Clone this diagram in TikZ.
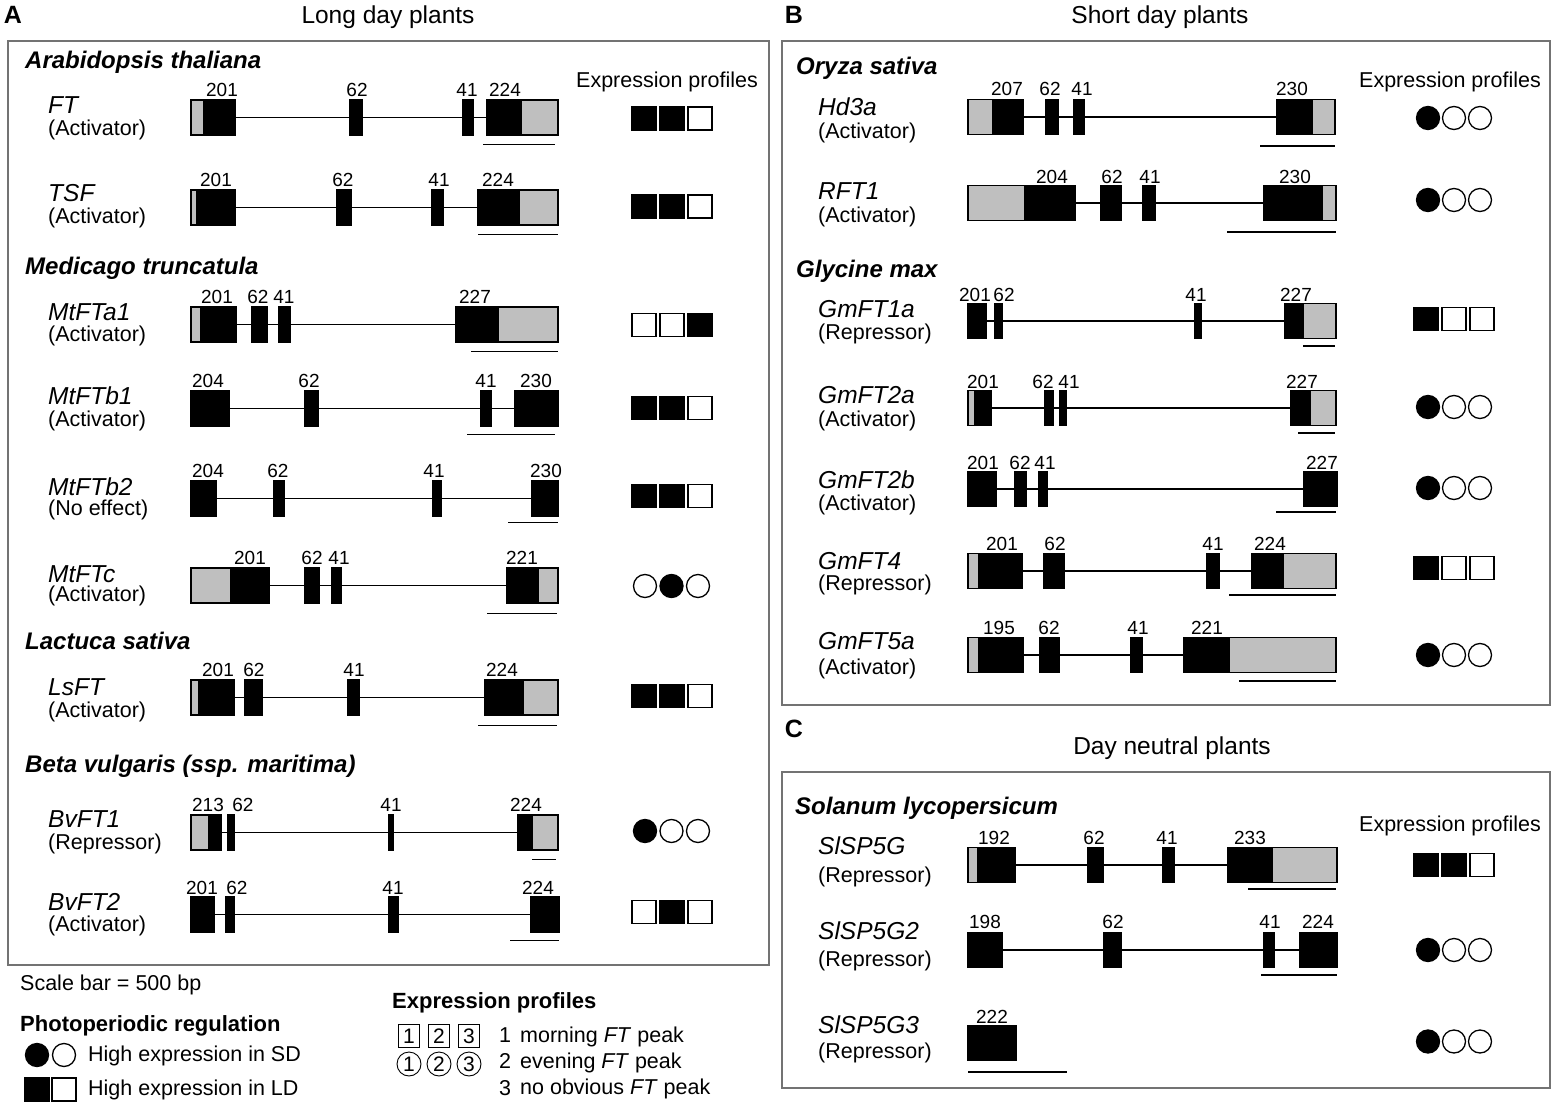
\documentclass[tikz,border=0pt]{standalone}
\usepackage{fontspec}
\setmainfont{Liberation Sans}
\usepackage{tikz}

\begin{document}
\begin{tikzpicture}[x=1pt,y=-1pt]
   \useasboundingbox (0,0) rectangle (1559,1110);
   \tikzstyle{panelbox}=[draw=black!55, line width=2.6pt]
   \tikzstyle{utr}=[fill=black!25, draw=black, line width=1.1pt]
   \tikzstyle{cds}=[fill=black, draw=black, line width=1.1pt]
   \tikzstyle{intron}=[line width=1.2pt]
   \tikzstyle{scalebar}=[line width=1.4pt]
   \tikzstyle{prof}=[draw=black, line width=1.3pt]
   \tikzstyle{num}=[inner sep=0pt, anchor=mid, yshift=-3.5pt, font=\fontsize{19}{20}\selectfont]
   \tikzstyle{gene}=[anchor=mid west, inner sep=0pt, yshift=-4pt, font=\fontsize{24.5}{26}\selectfont\itshape]
   \tikzstyle{role}=[anchor=mid west, inner sep=0pt, yshift=-4pt, font=\fontsize{21.5}{24}\selectfont]
   \tikzstyle{species}=[anchor=mid west, inner sep=0pt, yshift=-4pt, font=\fontsize{24}{26}\selectfont\bfseries\itshape]
   \tikzstyle{plants}=[inner sep=0pt, anchor=mid, yshift=-4pt, font=\fontsize{24.5}{26}\selectfont]
   \tikzstyle{panelletter}=[inner sep=0pt, anchor=mid, yshift=-4pt, font=\fontsize{25}{26}\selectfont\bfseries]
   \tikzstyle{txt}=[anchor=mid west, inner sep=0pt, yshift=-4pt, font=\fontsize{21.5}{24}\selectfont]
   \tikzstyle{keyhead}=[anchor=mid west, inner sep=0pt, yshift=-4pt, font=\fontsize{22}{24}\selectfont\bfseries]
   \tikzstyle{keymark}=[draw, line width=0.9pt, inner sep=0pt, font=\fontsize{21}{22}\selectfont]

   % panel A
   \draw[panelbox] (8,41) rectangle (769,965);
   \node[panelletter] (A) at (13,17) {A};
   \node[plants] (longday) at (388,17) {Long day plants};
   \node[txt,anchor=mid] (profA) at (667,81) {Expression profiles};
   \node[species] (arab) at (25,62) {Arabidopsis thaliana};
   \node[species] (medic) at (25,268) {Medicago truncatula};
   \node[species] (lact) at (25,643) {Lactuca sativa};
   \node[species] (beta) at (25,766) {Beta vulgaris (ssp. maritima)};

   % FT
   \def\gy{117.5}
   \draw[intron] (191,\gy) -- (558,\gy);
   \foreach \a/\b in {191/204,521/558} \draw[utr] (\a,\gy-17.5) rectangle (\b,\gy+17.5);
   \foreach \a/\b in {204/235,350/362,463/473,487/521} \draw[cds] (\a,\gy-17.5) rectangle (\b,\gy+17.5);
   \foreach \x/\n in {222/201,357/62,467/41,505/224} \node[num] (ft-\n) at (\x,\gy-27) {\n};
   \draw[scalebar] (483,\gy+27) -- (555,\gy+27);
   \node[gene] (ft) at (48,107) {FT};
   \node[role] (ft-role) at (48,129) {(Activator)};

   % TSF
   \def\gy{207.5}
   \draw[intron] (191,\gy) -- (558,\gy);
   \foreach \a/\b in {191/197,519/558} \draw[utr] (\a,\gy-17.5) rectangle (\b,\gy+17.5);
   \foreach \a/\b in {197/235,337/351,432/443,478/519} \draw[cds] (\a,\gy-17.5) rectangle (\b,\gy+17.5);
   \foreach \x/\n in {216/201,343/62,439/41,498/224} \node[num] (tsf-\n) at (\x,\gy-27) {\n};
   \draw[scalebar] (478,\gy+27) -- (558,\gy+27);
   \node[gene] (tsf) at (48,195) {TSF};
   \node[role] (tsf-role) at (48,217) {(Activator)};

   % MtFTa1
   \def\gy{324.5}
   \draw[intron] (191,\gy) -- (558,\gy);
   \foreach \a/\b in {191/201,498/558} \draw[utr] (\a,\gy-17.5) rectangle (\b,\gy+17.5);
   \foreach \a/\b in {201/236,252/267,279/290,456/498} \draw[cds] (\a,\gy-17.5) rectangle (\b,\gy+17.5);
   \foreach \x/\n in {217/201,258/62,284/41,475/227} \node[num] (fta1-\n) at (\x,\gy-27) {\n};
   \draw[scalebar] (471,\gy+27) -- (558,\gy+27);
   \node[gene] (fta1) at (48,314) {MtFTa1};
   \node[role] (fta1-role) at (48,335) {(Activator)};

   % MtFTb1
   \def\gy{408.5}
   \draw[intron] (191,\gy) -- (558,\gy);
   \foreach \a/\b in {191/229,305/318,481/491,515/558} \draw[cds] (\a,\gy-17.5) rectangle (\b,\gy+17.5);
   \foreach \x/\n in {208/204,309/62,486/41,536/230} \node[num] (ftb1-\n) at (\x,\gy-27) {\n};
   \draw[scalebar] (467,\gy+26) -- (555,\gy+26);
   \node[gene] (ftb1) at (48,398) {MtFTb1};
   \node[role] (ftb1-role) at (48,420) {(Activator)};

   % MtFTb2
   \def\gy{498.5}
   \draw[intron] (191,\gy) -- (558,\gy);
   \foreach \a/\b in {191/216,274/284,433/441,532/558} \draw[cds] (\a,\gy-17.5) rectangle (\b,\gy+17.5);
   \foreach \x/\n in {208/204,278/62,434/41,546/230} \node[num] (ftb2-\n) at (\x,\gy-27) {\n};
   \draw[scalebar] (508,\gy+24) -- (558,\gy+24);
   \node[gene] (ftb2) at (48,489) {MtFTb2};
   \node[role] (ftb2-role) at (48,509) {(No effect)};

   % MtFTc
   \def\gy{585.5}
   \draw[intron] (191,\gy) -- (558,\gy);
   \foreach \a/\b in {191/231,538/558} \draw[utr] (\a,\gy-17.5) rectangle (\b,\gy+17.5);
   \foreach \a/\b in {231/269,305/319,332/341,507/538} \draw[cds] (\a,\gy-17.5) rectangle (\b,\gy+17.5);
   \foreach \x/\n in {250/201,312/62,339/41,522/221} \node[num] (ftc-\n) at (\x,\gy-27) {\n};
   \draw[scalebar] (487,\gy+28) -- (557,\gy+28);
   \node[gene] (ftc) at (48,576) {MtFTc};
   \node[role] (ftc-role) at (48,595) {(Activator)};

   % LsFT
   \def\gy{697.5}
   \draw[intron] (191,\gy) -- (558,\gy);
   \foreach \a/\b in {191/199,523/558} \draw[utr] (\a,\gy-17.5) rectangle (\b,\gy+17.5);
   \foreach \a/\b in {199/234,245/262,348/359,485/523} \draw[cds] (\a,\gy-17.5) rectangle (\b,\gy+17.5);
   \foreach \x/\n in {218/201,254/62,354/41,502/224} \node[num] (lsft-\n) at (\x,\gy-27) {\n};
   \draw[scalebar] (478,\gy+28) -- (557,\gy+28);
   \node[gene] (lsft) at (48,689) {LsFT};
   \node[role] (lsft-role) at (48,711) {(Activator)};

   % BvFT1
   \def\gy{832.5}
   \draw[intron] (191,\gy) -- (558,\gy);
   \foreach \a/\b in {191/209,532/558} \draw[utr] (\a,\gy-17.5) rectangle (\b,\gy+17.5);
   \foreach \a/\b in {209/221,228/234,389/393,518/532} \draw[cds] (\a,\gy-17.5) rectangle (\b,\gy+17.5);
   \foreach \x/\n in {208/213,243/62,391/41,526/224} \node[num] (bvft1-\n) at (\x,\gy-27) {\n};
   \draw[scalebar] (532,\gy+27) -- (556,\gy+27);
   \node[gene] (bvft1) at (48,821) {BvFT1};
   \node[role] (bvft1-role) at (48,843) {(Repressor)};

   % BvFT2
   \def\gy{914.5}
   \draw[intron] (191,\gy) -- (558,\gy);
   \foreach \a/\b in {191/214,226/234,389/398,531/559} \draw[cds] (\a,\gy-17.5) rectangle (\b,\gy+17.5);
   \foreach \x/\n in {202/201,237/62,393/41,538/224} \node[num] (bvft2-\n) at (\x,\gy-26) {\n};
   \draw[scalebar] (510,\gy+26) -- (559,\gy+26);
   \node[gene] (bvft2) at (48,904) {BvFT2};
   \node[role] (bvft2-role) at (48,925) {(Activator)};

   % panel B
   \draw[panelbox] (782,41) rectangle (1550,705);
   \node[panelletter] (B) at (794,17) {B};
   \node[plants] (shortday) at (1160,17) {Short day plants};
   \node[txt,anchor=mid] (profB) at (1450,81) {Expression profiles};
   \node[species] (oryza) at (796,68) {Oryza sativa};
   \node[species] (glycine) at (796,271) {Glycine max};

   % Hd3a
   \def\gy{117}
   \draw[intron] (968,\gy) -- (1335,\gy);
   \foreach \a/\b in {968/993,1312/1335} \draw[utr] (\a,\gy-17.5) rectangle (\b,\gy+17.5);
   \foreach \a/\b in {993/1023,1046/1058,1074/1084,1277/1312} \draw[cds] (\a,\gy-17.5) rectangle (\b,\gy+17.5);
   \foreach \x/\n in {1007/207,1050/62,1082/41,1292/230} \node[num] (hd3a-\n) at (\x,\gy-28) {\n};
   \draw[scalebar] (1260,\gy+29) -- (1335,\gy+29);
   \node[gene] (hd3a) at (818,109) {Hd3a};
   \node[role] (hd3a-role) at (818,132) {(Activator)};

   % RFT1
   \def\gy{203}
   \draw[intron] (968,\gy) -- (1336,\gy);
   \foreach \a/\b in {968/1025,1322/1336} \draw[utr] (\a,\gy-17.5) rectangle (\b,\gy+17.5);
   \foreach \a/\b in {1025/1075,1101/1121,1143/1155,1264/1322} \draw[cds] (\a,\gy-17.5) rectangle (\b,\gy+17.5);
   \foreach \x/\n in {1052/204,1112/62,1150/41,1295/230} \node[num] (rft1-\n) at (\x,\gy-26) {\n};
   \draw[scalebar] (1227,\gy+29) -- (1336,\gy+29);
   \node[gene] (rft1) at (818,193) {RFT1};
   \node[role] (rft1-role) at (818,216) {(Activator)};

   % GmFT1a
   \def\gy{321}
   \draw[intron] (968,\gy) -- (1336,\gy);
   \foreach \a/\b in {1303/1336} \draw[utr] (\a,\gy-17.5) rectangle (\b,\gy+17.5);
   \foreach \a/\b in {968/986,995/1002,1195/1201,1285/1303} \draw[cds] (\a,\gy-17.5) rectangle (\b,\gy+17.5);
   \foreach \x/\n in {975/201,1004/62,1196/41,1296/227} \node[num] (gm1a-\n) at (\x,\gy-26) {\n};
   \draw[scalebar] (1303,\gy+25) -- (1335,\gy+25);
   \node[gene] (gm1a) at (818,311) {GmFT1a};
   \node[role] (gm1a-role) at (818,333) {(Repressor)};

   % GmFT2a
   \def\gy{408}
   \draw[intron] (968,\gy) -- (1336,\gy);
   \foreach \a/\b in {968/975,1310/1336} \draw[utr] (\a,\gy-17.5) rectangle (\b,\gy+17.5);
   \foreach \a/\b in {975/991,1045/1053,1060/1066,1291/1310} \draw[cds] (\a,\gy-17.5) rectangle (\b,\gy+17.5);
   \foreach \x/\n in {983/201,1043/62,1069/41,1302/227} \node[num] (gm2a-\n) at (\x,\gy-26) {\n};
   \draw[scalebar] (1298,\gy+25) -- (1335,\gy+25);
   \node[gene] (gm2a) at (818,397) {GmFT2a};
   \node[role] (gm2a-role) at (818,420) {(Activator)};

   % GmFT2b
   \def\gy{489}
   \draw[intron] (968,\gy) -- (1337,\gy);
   \foreach \a/\b in {968/996,1015/1026,1039/1047,1304/1337} \draw[cds] (\a,\gy-17.5) rectangle (\b,\gy+17.5);
   \foreach \x/\n in {983/201,1020/62,1045/41,1322/227} \node[num] (gm2b-\n) at (\x,\gy-26) {\n};
   \draw[scalebar] (1276,\gy+23) -- (1336,\gy+23);
   \node[gene] (gm2b) at (818,482) {GmFT2b};
   \node[role] (gm2b-role) at (818,504) {(Activator)};

   % GmFT4
   \def\gy{571}
   \draw[intron] (968,\gy) -- (1336,\gy);
   \foreach \a/\b in {968/979,1283/1336} \draw[utr] (\a,\gy-17.5) rectangle (\b,\gy+17.5);
   \foreach \a/\b in {979/1022,1044/1064,1207/1219,1252/1283} \draw[cds] (\a,\gy-17.5) rectangle (\b,\gy+17.5);
   \foreach \x/\n in {1002/201,1055/62,1213/41,1270/224} \node[num] (gm4-\n) at (\x,\gy-27) {\n};
   \draw[scalebar] (1229,\gy+24) -- (1336,\gy+24);
   \node[gene] (gm4) at (818,563) {GmFT4};
   \node[role] (gm4-role) at (818,584) {(Repressor)};

   % GmFT5a
   \def\gy{655}
   \draw[intron] (968,\gy) -- (1336,\gy);
   \foreach \a/\b in {968/979,1229/1336} \draw[utr] (\a,\gy-17.5) rectangle (\b,\gy+17.5);
   \foreach \a/\b in {979/1023,1040/1059,1131/1142,1184/1229} \draw[cds] (\a,\gy-17.5) rectangle (\b,\gy+17.5);
   \foreach \x/\n in {999/195,1049/62,1138/41,1207/221} \node[num] (gm5a-\n) at (\x,\gy-27) {\n};
   \draw[scalebar] (1239,\gy+26) -- (1336,\gy+26);
   \node[gene] (gm5a) at (818,643) {GmFT5a};
   \node[role] (gm5a-role) at (818,668) {(Activator)};

   % panel C
   \draw[panelbox] (782,772) rectangle (1550,1088);
   \node[panelletter] (C) at (794,731) {C};
   \node[plants] (neutral) at (1172,748) {Day neutral plants};
   \node[txt,anchor=mid] (profC) at (1450,825) {Expression profiles};
   \node[species] (solanum) at (795,808) {Solanum lycopersicum};

   % SlSP5G
   \def\gy{865}
   \draw[intron] (968,\gy) -- (1337,\gy);
   \foreach \a/\b in {968/978,1272/1337} \draw[utr] (\a,\gy-17.5) rectangle (\b,\gy+17.5);
   \foreach \a/\b in {978/1015,1088/1103,1163/1174,1228/1272} \draw[cds] (\a,\gy-17.5) rectangle (\b,\gy+17.5);
   \foreach \x/\n in {994/192,1094/62,1167/41,1250/233} \node[num] (sp5g-\n) at (\x,\gy-27) {\n};
   \draw[scalebar] (1248,\gy+24) -- (1336,\gy+24);
   \node[gene] (sp5g) at (818,848) {SlSP5G};
   \node[role] (sp5g-role) at (818,876) {(Repressor)};

   % SlSP5G2
   \def\gy{950}
   \draw[intron] (968,\gy) -- (1337,\gy);
   \foreach \a/\b in {968/1002,1104/1121,1264/1274,1300/1337} \draw[cds] (\a,\gy-17.5) rectangle (\b,\gy+17.5);
   \foreach \x/\n in {985/198,1113/62,1270/41,1318/224} \node[num] (sp5g2-\n) at (\x,\gy-28) {\n};
   \draw[scalebar] (1261,\gy+25) -- (1337,\gy+25);
   \node[gene] (sp5g2) at (818,933) {SlSP5G2};
   \node[role] (sp5g2-role) at (818,960) {(Repressor)};

   % SlSP5G3
   \def\gy{1043}
   \draw[cds] (968,\gy-17.5) rectangle (1016,\gy+17.5);
   \node[num] (sp5g3-222) at (992,\gy-26) {222};
   \draw[scalebar] (968,\gy+29) -- (1067,\gy+29);
   \node[gene] (sp5g3) at (818,1027) {SlSP5G3};
   \node[role] (sp5g3-role) at (818,1052) {(Repressor)};

   % expression profiles
   \foreach \y/\p/\q/\r in {118.5/black/black/white,206.5/black/black/white,325/white/white/black,
       408/black/black/white,496/black/black/white,696/black/black/white,912/white/black/white}
     \foreach \f [count=\k from 0] in {\p,\q,\r}
       \draw[prof,fill=\f] (632+28*\k,\y-11.5) rectangle ++(24,23);
   \foreach \y/\p/\q/\r in {586/white/black/white,831/black/white/white}
     \foreach \f [count=\k from 0] in {\p,\q,\r}
       \draw[prof,fill=\f] (645+26.5*\k,\y) circle (11.5pt);
   \foreach \y/\p/\q/\r in {319/black/white/white,568/black/white/white,865/black/black/white}
     \foreach \f [count=\k from 0] in {\p,\q,\r}
       \draw[prof,fill=\f] (1414+28*\k,\y-11.5) rectangle ++(24,23);
   \foreach \y in {118,200,407,488,655,950,1041.5}
     \foreach \f [count=\k from 0] in {black,white,white}
       \draw[prof,fill=\f] (1428+26*\k,\y) circle (11.5pt);

   % legend
   \node[txt] (scale) at (20,984) {Scale bar = 500 bp};
   \node[keyhead] (photo) at (20,1025) {Photoperiodic regulation};
   \draw[prof,fill=black] (37,1055) circle (11.5pt);
   \draw[prof,fill=white] (64,1055) circle (11.5pt);
   \node[txt] (sd) at (88,1055) {High expression in SD};
   \draw[prof,fill=black] (25,1078) rectangle (49,1101);
   \draw[prof,fill=white] (52,1078) rectangle (76,1101);
   \node[txt] (ld) at (88,1089) {High expression in LD};
   \node[keyhead] (profkey) at (392,1002) {Expression profiles};
   \foreach \k in {1,2,3} {
       \node[keymark, minimum width=21pt, minimum height=23pt] (sq\k) at (379+30*\k,1036) {\k};
       \node[keymark, circle, minimum size=24pt] (ci\k) at (379+30*\k,1064) {\k};
   }
   \node[txt,anchor=mid] (k1) at (505,1036) {1};
   \node[txt] (k1-text) at (520,1036) {morning \textit{FT} peak};
   \node[txt,anchor=mid] (k2) at (505,1062) {2};
   \node[txt] (k2-text) at (520,1062) {evening \textit{FT} peak};
   \node[txt,anchor=mid] (k3) at (505,1089) {3};
   \node[txt] (k3-text) at (520,1088) {no obvious \textit{FT} peak};
\end{tikzpicture}
\end{document}
